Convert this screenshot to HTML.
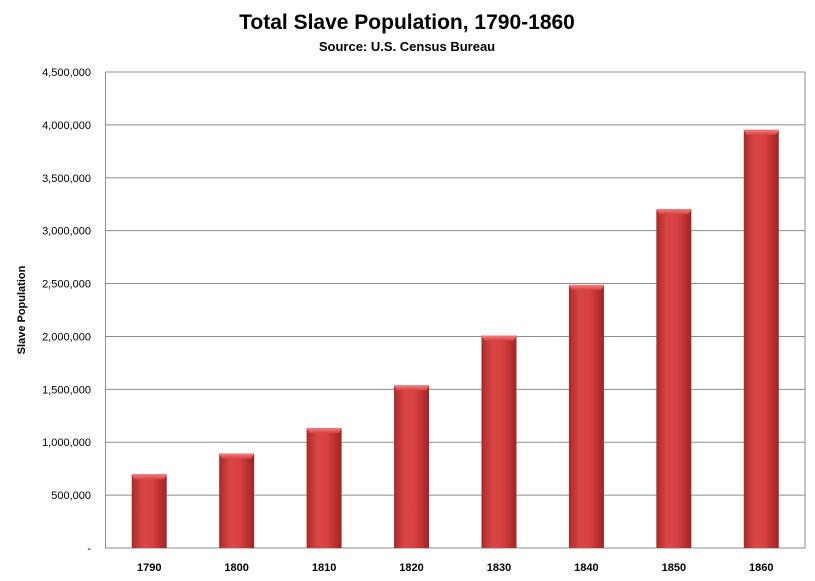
<!DOCTYPE html>
<html><head><meta charset="utf-8"><style>
body{margin:0;background:#fff;font-family:"Liberation Sans",sans-serif}
</style></head><body>
<svg id="c" width="815" height="576" xmlns="http://www.w3.org/2000/svg">
<defs>
<linearGradient id="g" x1="0" x2="1" y1="0" y2="0">
<stop offset="0" stop-color="#a82a2a"/><stop offset="0.3" stop-color="#d94545"/><stop offset="0.6" stop-color="#d84040"/><stop offset="1" stop-color="#9e2424"/>
</linearGradient>
<linearGradient id="t" x1="0" x2="0" y1="0" y2="1">
<stop offset="0" stop-color="#f08080"/><stop offset="1" stop-color="#d94545"/>
</linearGradient>
</defs>
<text x="407" y="29" text-anchor="middle" font-size="21" font-weight="bold">Total Slave Population, 1790-1860</text>
<text x="407" y="51" text-anchor="middle" font-size="13" font-weight="bold">Source: U.S. Census Bureau</text>
<text transform="translate(25,310) rotate(-90)" text-anchor="middle" font-size="11" font-weight="bold">Slave Population</text>
<g id="grid"></g><g id="bars"></g>
</svg>
<script>
const categories=["1790","1800","1810","1820","1830","1840","1850","1860"];
const values=[697681,893602,1135000,1538022,2009043,2487355,3204313,3953760];
const yTicks=[0,500000,1000000,1500000,2000000,2500000,3000000,3500000,4000000,4500000];
const yTickLabels=["-","500,000","1,000,000","1,500,000","2,000,000","2,500,000","3,000,000","3,500,000","4,000,000","4,500,000"];
const NS="http://www.w3.org/2000/svg";
const L=105.5,R=805,T=72,B=548,MAX=4500000;
const y=v=>B-(v/MAX)*(B-T);
const bw=(R-L)/categories.length;
const x=i=>L+bw*i+bw/2;
function mk(tag,attrs,parent){const e=document.createElementNS(NS,tag);for(const k in attrs)e.setAttribute(k,attrs[k]);parent.appendChild(e);return e;}
const grid=document.getElementById('grid'),bars=document.getElementById('bars');
yTicks.forEach((v,i)=>{
  if(v>0){const l=mk('line',{x1:L,x2:R,y1:y(v),y2:y(v),stroke:'#8c8c8c','stroke-width':1},grid);
  
  }
  const t=mk('text',{x:91,y:y(v)+4,'text-anchor':'end','font-size':11},grid);
  t.textContent=yTickLabels[i];
  
  
});
const ax=mk('path',{d:`M${L} ${T}V${B}H${R}V${T}`,fill:'none',stroke:'#8c8c8c','stroke-width':1},grid);


categories.forEach((c,i)=>{
  const w=35,cx=x(i),top=y(values[i]);
  const r=mk('rect',{x:cx-w/2,y:top,width:w,height:B-top,fill:'url(#g)'},bars);
  
  
  const tp=mk('path',{d:`M${cx-w/2} ${top+1}Q${cx-w/2} ${top} ${cx-w/2+2} ${top}H${cx+w/2-2}Q${cx+w/2} ${top} ${cx+w/2} ${top+1}L${cx+w/2-3} ${top+5}H${cx-w/2+3}Z`,fill:'url(#t)'},bars);
  
  
  const t=mk('text',{x:cx,y:571,'text-anchor':'middle','font-size':11,'font-weight':'bold'},bars);
  t.textContent=c;
  
  
});
</script>
</body></html>
